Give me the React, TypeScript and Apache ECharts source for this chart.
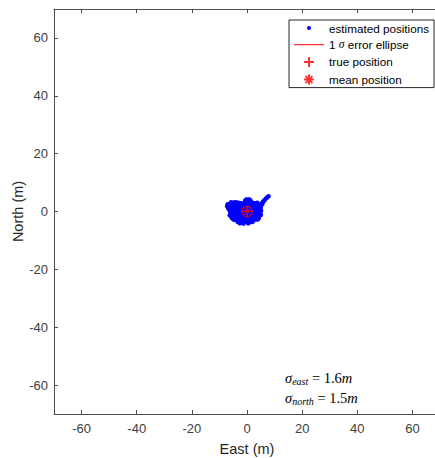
import React, { useEffect, useRef } from "react";
import * as echarts from "echarts";

// ---- data ----
const axisTicks = [-60, -40, -20, 0, 20, 40, 60];
const axisMin = -70;
const axisMax = 70;

// estimated positions [east, north] (m)
const estimatedPositions: [number, number][] = [
  [-0.6, 3.9], [0.3, 4.0], [1.2, 3.9], [0.8, 4.2], [-0.2, 4.2],
  [-5.8, 3.2], [-4.9, 3.1], [-4.0, 3.2], [-3.1, 3.0], [-2.2, 2.9], [-0.9, 3.2], [0.1, 3.3], [1.0, 3.2], [1.9, 3.1], [2.8, 2.9], [3.7, 3.0],
  [-7.0, 2.5], [-6.2, 2.6], [-5.3, 2.5], [-4.4, 2.4], [-3.5, 2.5], [-2.6, 2.4], [-1.7, 2.5], [-0.8, 2.4], [0.1, 2.5], [1.0, 2.6], [1.9, 2.4], [2.8, 2.5], [3.7, 2.4], [4.5, 2.3],
  [-7.2, 1.8], [-6.4, 1.7], [-5.5, 1.8], [-4.6, 1.9], [-3.7, 1.7], [-2.8, 1.8], [-1.9, 1.8], [-1.0, 1.7], [-0.1, 1.8], [0.8, 1.9], [1.7, 1.7], [2.6, 1.8], [3.5, 1.8], [4.4, 1.7], [5.0, 1.6],
  [-6.8, 1.0], [-5.9, 1.1], [-5.0, 1.0], [-4.1, 0.9], [-3.2, 1.0], [-2.3, 1.1], [-1.4, 1.0], [-0.5, 0.9], [0.4, 1.0], [1.3, 1.1], [2.2, 1.0], [3.1, 0.9], [4.0, 1.0], [4.9, 1.0],
  [-6.3, 0.3], [-5.4, 0.2], [-4.5, 0.3], [-3.6, 0.4], [-2.7, 0.3], [-1.8, 0.2], [-0.9, 0.3], [0.0, 0.3], [0.9, 0.2], [1.8, 0.3], [2.7, 0.4], [3.6, 0.3], [4.5, 0.2], [5.1, 0.3],
  [-6.0, -0.5], [-5.1, -0.4], [-4.2, -0.5], [-3.3, -0.6], [-2.4, -0.5], [-1.5, -0.4], [-0.6, -0.5], [0.3, -0.6], [1.2, -0.5], [2.1, -0.4], [3.0, -0.5], [3.9, -0.6], [4.8, -0.5],
  [-6.3, -1.3], [-5.4, -1.2], [-4.5, -1.3], [-3.6, -1.4], [-2.7, -1.3], [-1.8, -1.2], [-0.9, -1.3], [0.0, -1.4], [0.9, -1.3], [1.8, -1.2], [2.7, -1.3], [3.6, -1.4], [4.5, -1.3], [5.0, -1.2],
  [-5.6, -2.1], [-4.7, -2.0], [-3.8, -2.1], [-2.9, -2.2], [-2.0, -2.1], [-1.1, -2.0], [-0.2, -2.1], [0.7, -2.2], [1.6, -2.1], [2.5, -2.0], [3.4, -2.1], [4.3, -2.2],
  [-4.6, -2.9], [-3.7, -2.8], [-2.8, -2.9], [-1.9, -3.0], [-1.0, -2.9], [-0.1, -2.8], [0.8, -2.9], [1.7, -3.0], [2.6, -2.9], [3.5, -2.8],
  [-3.4, -3.6], [-2.5, -3.7], [-1.6, -3.6], [-0.7, -3.5], [0.2, -3.6], [1.1, -3.7], [2.0, -3.6],
  [-2.6, -4.1], [-1.3, -4.2], [0.4, -4.1], [-5.1, -2.6], [4.0, -2.7], [-6.6, 2.2],
  [5.3, 2.9], [5.6, 2.6], [5.9, 3.5], [6.2, 3.7], [6.5, 4.1], [7.0, 4.6], [7.5, 5.0], [7.8, 5.3],
];

// 1-sigma error ellipse outline [east, north] (m)
const ellipsePoints: [number, number][] = [
  [1.9, 0], [1.65, 0.9], [0.95, 1.56], [0, 1.8], [-0.95, 1.56], [-1.65, 0.9], [-1.9, 0],
  [-1.65, -0.9], [-0.95, -1.56], [0, -1.8], [0.95, -1.56], [1.65, -0.9], [1.9, 0],
];

const truePosition: [number, number][] = [[0, 0]];
const meanPosition: [number, number][] = [[0.1, 0.1]];

const sigmaEast = "1.6";
const sigmaNorth = "1.5";

const seriesNames = ["estimated positions", "1 σ error ellipse", "true position", "mean position"];

const PLUS = "path://M5,0L5,10M0,5L10,5";
const STAR = "path://M5,0L5,10M0,5L10,5M1.5,1.5L8.5,8.5M1.5,8.5L8.5,1.5";

export default function App() {
  const ref = useRef<HTMLDivElement>(null);

  useEffect(() => {
    if (!ref.current) return;
    const chart = echarts.init(ref.current, null, { renderer: "svg" });
    const axisColor = "#4d4d4d";
    const labelColor = "#404040";
    const font = "Liberation Sans";
    const baseAxis = {
      type: "value" as const,
      min: axisMin,
      max: axisMax,
      splitLine: { show: false },
      axisLine: { show: true, onZero: false, lineStyle: { color: axisColor, width: 1 } },
      axisTick: { show: true, inside: true, length: 4, customValues: axisTicks, lineStyle: { color: axisColor } },
    };
    const label = {
      color: labelColor,
      fontSize: 13,
      fontFamily: font,
      customValues: axisTicks,
    };
    const richSigma = {
      s: { fontFamily: "Liberation Serif", fontStyle: "italic", fontSize: 14.5, fill: "#000" },
      sub: { fontFamily: "Liberation Serif", fontStyle: "italic", fontSize: 10, fill: "#000", padding: [7, 0, 0, 0] },
      n: { fontFamily: "Liberation Serif", fontSize: 14.5, fill: "#000" },
    };
    chart.setOption({
      animation: false,
      grid: { left: 54, top: 9, width: 386, height: 405, containLabel: false, outerBoundsMode: "none" },
      xAxis: [
        {
          ...baseAxis,
          position: "bottom",
          axisLabel: { ...label, margin: 8 },
          name: "East (m)",
          nameLocation: "middle",
          nameGap: 27,
          nameMoveOverlap: false,
          nameTextStyle: { color: "#262626", fontSize: 14.5, fontFamily: font },
        },
        { ...baseAxis, position: "top", axisLabel: { show: false } },
      ],
      yAxis: [
        {
          ...baseAxis,
          position: "left",
          axisLabel: { ...label, margin: 6 },
          name: "North (m)",
          nameLocation: "middle",
          nameGap: 29,
          nameMoveOverlap: false,
          nameTextStyle: { color: "#262626", fontSize: 14.5, fontFamily: font },
        },
        { ...baseAxis, position: "right", axisLabel: { show: false } },
      ],
      legend: {
        orient: "vertical",
        left: 289,
        top: 20,
        padding: [1.5, 5, 1, 4],
        itemGap: 3.7,
        itemWidth: 30,
        itemHeight: 12,
        itemTextGap: 4,
        backgroundColor: "#ffffff",
        borderColor: "#262626",
        borderWidth: 1,
        borderRadius: 0,
        textStyle: {
          fontSize: 11.7,
          lineHeight: 13,
          fontFamily: font,
          color: "#000000",
          rich: {
            it: { fontStyle: "italic", fontFamily: "Liberation Serif", fontSize: 11.7, lineHeight: 13, color: "#000" },
          },
        },
        formatter: (name: string) => (name === seriesNames[1] ? "1 {it|σ} error ellipse" : name),
        data: [
          { name: seriesNames[0], icon: "path://M0,0M30,12M17,6A2,2,0,1,1,13,6A2,2,0,1,1,17,6Z" },
          { name: seriesNames[1], icon: "path://M0,0M30,12M0,5.5L30,5.5L30,6.5L0,6.5Z" },
          { name: seriesNames[2], icon: "path://M0,0M30,12M15,1L15,11M10,6L20,6" },
          { name: seriesNames[3], icon: "path://M0,0M30,12M15,1L15,11M10,6L20,6M11.5,2.5L18.5,9.5M11.5,9.5L18.5,2.5" },
        ],
      },
      graphic: [
        {
          type: "text",
          x: 285,
          y: 378,
          style: { text: `{s|σ}{sub|east}{n| = ${sigmaEast}}{s|m}`, verticalAlign: "middle", rich: richSigma },
        },
        {
          type: "text",
          x: 285,
          y: 398,
          style: { text: `{s|σ}{sub|north}{n| = ${sigmaNorth}}{s|m}`, verticalAlign: "middle", rich: richSigma },
        },
      ],
      series: [
        {
          name: seriesNames[0],
          type: "scatter",
          data: estimatedPositions,
          symbol: "circle",
          symbolSize: 4.5,
          itemStyle: { color: "#0000ff", opacity: 1 },
          z: 2,
        },
        {
          name: seriesNames[1],
          type: "line",
          data: ellipsePoints,
          smooth: true,
          showSymbol: false,
          symbol: "none",
          lineStyle: { color: "#ff0000", width: 1 },
          itemStyle: { color: "#ff0000" },
          z: 3,
        },
        {
          name: seriesNames[2],
          type: "scatter",
          data: truePosition,
          symbol: PLUS,
          symbolSize: 10,
          itemStyle: { color: "#ff0000", borderColor: "#ff0000", borderWidth: 1 },
          z: 4,
        },
        {
          name: seriesNames[3],
          type: "scatter",
          data: meanPosition,
          symbol: STAR,
          symbolSize: 10,
          itemStyle: { color: "#ff0000", borderColor: "#ff0000", borderWidth: 1 },
          z: 5,
        },
      ],
    });
    return () => chart.dispose();
  }, []);

  return (
    <div
      ref={ref}
      style={{ position: "fixed", left: 0, top: 0, width: 435, height: 458, background: "#fff" }}
    />
  );
}
